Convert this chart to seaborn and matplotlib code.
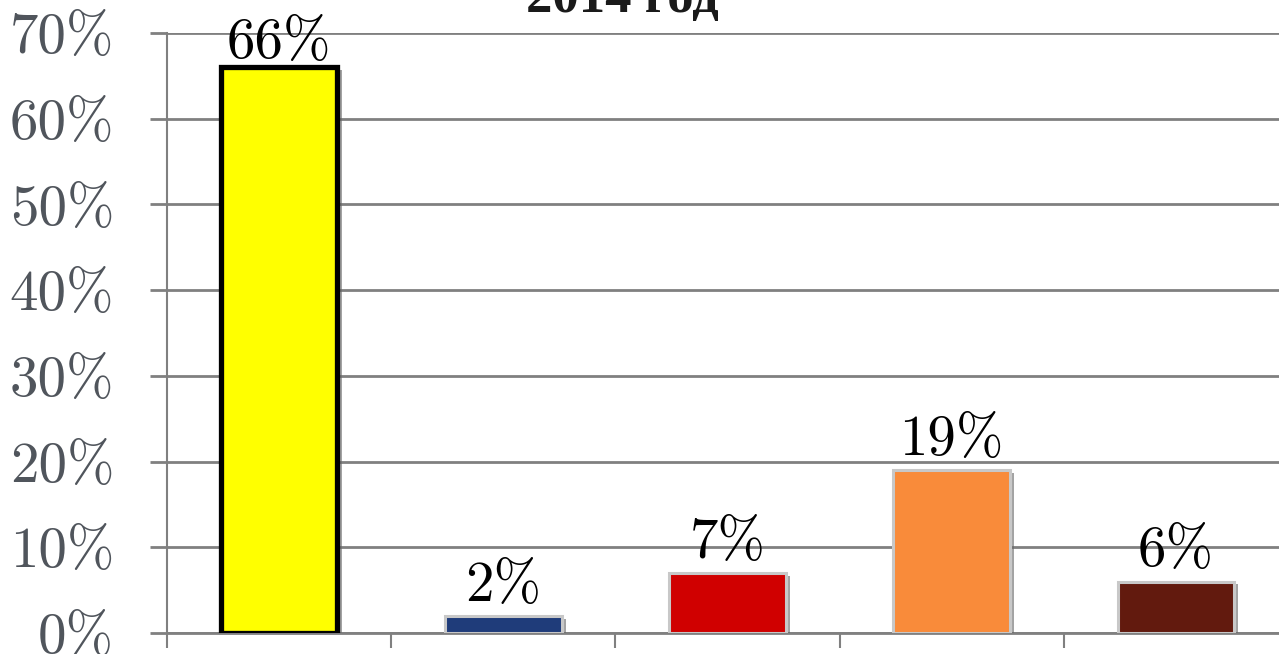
import matplotlib
matplotlib.use("Agg")
import matplotlib.pyplot as plt
import matplotlib.patheffects as pe
import seaborn as sns
import pandas as pd
from matplotlib.ticker import FixedLocator, PercentFormatter

# ---- data ----
categories = ["A", "B", "C", "D", "E"]
values = [66, 2, 7, 19, 6]
labels = ["66%", "2%", "7%", "19%", "6%"]
yticks = [0, 10, 20, 30, 40, 50, 60, 70]
title = "2014 год"

colors = ["#FFFF00", "#1F3C7A", "#D00000", "#F98B3A", "#621A0E"]
edgecolors = ["#000000", "#C8C8C8", "#C8C8C8", "#C8C8C8", "#C8C8C8"]
edgewidths = [3.8, 2.2, 2.2, 2.2, 2.2]
label_pads = [-1, 3, 3, 3, 3]

sns.set_theme(style="white")
plt.rcParams["font.family"] = ["cmr10", "DejaVu Serif"]
plt.rcParams["axes.unicode_minus"] = False

fig = plt.figure(figsize=(12.79, 6.54), dpi=100)
ax = fig.add_axes([167 / 1279, 21 / 654, 1121 / 1279, 600 / 654])

df = pd.DataFrame({"cat": categories, "val": values})
sns.barplot(data=df, x="cat", y="val", hue="cat", palette=colors,
            width=0.52, legend=False, ax=ax, saturation=1)

shadow = [pe.SimplePatchShadow(offset=(3, -2), shadow_rgbFace="#666666", alpha=0.6), pe.Normal()]
for bar, ec, lw in zip(ax.patches, edgecolors, edgewidths):
    bar.set_edgecolor(ec)
    bar.set_linewidth(lw)
    bar.set_path_effects(shadow)
    bar.set_zorder(3)

for bar, lab, pad in zip(ax.patches, labels, label_pads):
    ax.annotate(lab, (bar.get_x() + bar.get_width() / 2, bar.get_height()),
                xytext=(0, pad), textcoords="offset points",
                ha="center", va="bottom", fontsize=41, color="black", zorder=5)

ax.set_ylim(0, 70)
ax.set_xlim(-0.5, 4.5)
ax.yaxis.set_major_locator(FixedLocator(yticks))
ax.yaxis.set_major_formatter(PercentFormatter(decimals=0))
ax.grid(axis="y", color="#808080", linewidth=2, zorder=0)
ax.set_axisbelow(True)

ax.set_xticks([])
ax.set_xticks([i - 0.5 for i in range(len(categories) + 1)], minor=True)
ax.tick_params(axis="x", which="minor", length=11, width=1.5, color="#808080", bottom=True)
ax.tick_params(axis="y", which="major", length=12, width=2, color="#808080", left=True,
               labelsize=41, labelcolor="#50555C", pad=26)
ax.set_xlabel("")
ax.set_ylabel("")

for s in ["top", "right"]:
    ax.spines[s].set_visible(False)
ax.spines["left"].set_color("#808080")
ax.spines["left"].set_linewidth(1.5)
ax.spines["bottom"].set_color("#808080")
ax.spines["bottom"].set_linewidth(2)

fig.text(0.487, 1 - 12 / 654, title, ha="center", va="baseline", fontsize=38,
         fontweight="bold", family=["Liberation Serif"], color="#1a1a1a")

fig.savefig("out.png", dpi=100)
